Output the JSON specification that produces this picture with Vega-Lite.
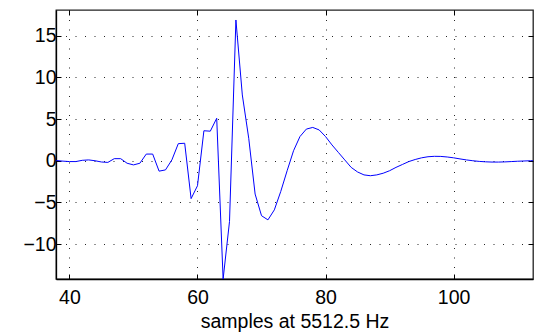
{
  "$schema": "https://vega.github.io/schema/vega-lite/v6.json",
  "width": 477,
  "height": 269,
  "autosize": "none",
  "padding": {"left": 56, "top": 10, "right": 1, "bottom": 57},
  "background": "white",
  "config": {
    "view": {"stroke": "#222", "strokeWidth": 1.3},
    "axis": {
      "domainColor": "#000",
      "domainWidth": 1.3,
      "tickColor": "#000",
      "labelColor": "#000",
      "titleColor": "#000",
      "labelFont": "Liberation Sans",
      "titleFont": "Liberation Sans",
      "labelFontSize": 19.5,
      "titleFontSize": 19.5,
      "titleFontWeight": "normal",
      "gridColor": "#000",
      "gridDash": [1, 8.5],
      "gridWidth": 1,
      "gridOpacity": 0.85,
      "tickSize": -5,
      "tickWidth": 1
    }
  },
  "data": {
    "values": [
      {"sample": 37, "value": 0.02},
      {"sample": 38, "value": 0.02},
      {"sample": 39, "value": -0.05},
      {"sample": 40, "value": -0.1},
      {"sample": 41, "value": -0.1},
      {"sample": 42, "value": 0.05},
      {"sample": 43, "value": 0.1},
      {"sample": 44, "value": 0.0},
      {"sample": 45, "value": -0.15},
      {"sample": 46, "value": -0.2},
      {"sample": 47, "value": 0.25},
      {"sample": 48, "value": 0.25},
      {"sample": 49, "value": -0.3},
      {"sample": 50, "value": -0.5},
      {"sample": 51, "value": -0.3},
      {"sample": 52, "value": 0.8},
      {"sample": 53, "value": 0.8},
      {"sample": 54, "value": -1.25},
      {"sample": 55, "value": -1.1},
      {"sample": 56, "value": 0.1},
      {"sample": 57, "value": 2.05},
      {"sample": 58, "value": 2.1},
      {"sample": 59, "value": -4.55},
      {"sample": 60, "value": -3.0},
      {"sample": 61, "value": 3.6},
      {"sample": 62, "value": 3.55},
      {"sample": 63, "value": 5.1},
      {"sample": 64, "value": -14.2},
      {"sample": 65, "value": -7.3},
      {"sample": 66, "value": 16.9},
      {"sample": 67, "value": 7.9},
      {"sample": 68, "value": 2.7},
      {"sample": 69, "value": -4.0},
      {"sample": 70, "value": -6.6},
      {"sample": 71, "value": -7.1},
      {"sample": 72, "value": -5.9},
      {"sample": 73, "value": -3.7},
      {"sample": 74, "value": -1.2},
      {"sample": 75, "value": 1.2},
      {"sample": 76, "value": 2.9},
      {"sample": 77, "value": 3.8},
      {"sample": 78, "value": 4.0},
      {"sample": 79, "value": 3.7},
      {"sample": 80, "value": 2.9},
      {"sample": 81, "value": 1.9},
      {"sample": 82, "value": 1.0},
      {"sample": 83, "value": 0.1},
      {"sample": 84, "value": -0.8},
      {"sample": 85, "value": -1.35},
      {"sample": 86, "value": -1.7},
      {"sample": 87, "value": -1.8},
      {"sample": 88, "value": -1.7},
      {"sample": 89, "value": -1.5},
      {"sample": 90, "value": -1.2},
      {"sample": 91, "value": -0.8},
      {"sample": 92, "value": -0.45},
      {"sample": 93, "value": -0.1},
      {"sample": 94, "value": 0.15},
      {"sample": 95, "value": 0.35},
      {"sample": 96, "value": 0.48},
      {"sample": 97, "value": 0.53},
      {"sample": 98, "value": 0.52},
      {"sample": 99, "value": 0.45},
      {"sample": 100, "value": 0.35},
      {"sample": 101, "value": 0.22},
      {"sample": 102, "value": 0.1},
      {"sample": 103, "value": 0.0},
      {"sample": 104, "value": -0.08},
      {"sample": 105, "value": -0.13},
      {"sample": 106, "value": -0.16},
      {"sample": 107, "value": -0.16},
      {"sample": 108, "value": -0.14},
      {"sample": 109, "value": -0.1},
      {"sample": 110, "value": -0.06},
      {"sample": 111, "value": -0.03},
      {"sample": 112, "value": 0.0},
      {"sample": 113, "value": 0.02}
    ]
  },
  "layer": [
    {
      "mark": {"type": "line", "color": "#0000ff", "strokeWidth": 1, "clip": true},
      "encoding": {
        "x": {
          "field": "sample", "type": "quantitative",
          "scale": {"domain": [37.9, 112.4], "nice": false, "zero": false},
          "axis": {"orient": "bottom", "values": [40, 60, 80, 100], "grid": true, "labelPadding": 14, "title": "samples at 5512.5 Hz", "titlePadding": 6}
        },
        "y": {
          "field": "value", "type": "quantitative",
          "scale": {"domain": [-14.2, 18.1], "nice": false, "zero": false},
          "axis": {"orient": "left", "values": [-10, -5, 0, 5, 10, 15], "grid": true, "labelPadding": 5, "title": null}
        }
      }
    },
    {
      "mark": {"type": "line", "opacity": 0, "clip": true},
      "encoding": {
        "x": {
          "field": "sample", "type": "quantitative",
          "axis": {"orient": "top", "values": [40, 60, 80, 100], "grid": false, "labels": false, "domain": false, "title": null}
        },
        "y": {
          "field": "value", "type": "quantitative",
          "axis": {"orient": "right", "values": [-10, -5, 0, 5, 10, 15], "grid": false, "labels": false, "domain": false, "title": null}
        }
      }
    }
  ],
  "resolve": {"axis": {"x": "independent", "y": "independent"}}
}
